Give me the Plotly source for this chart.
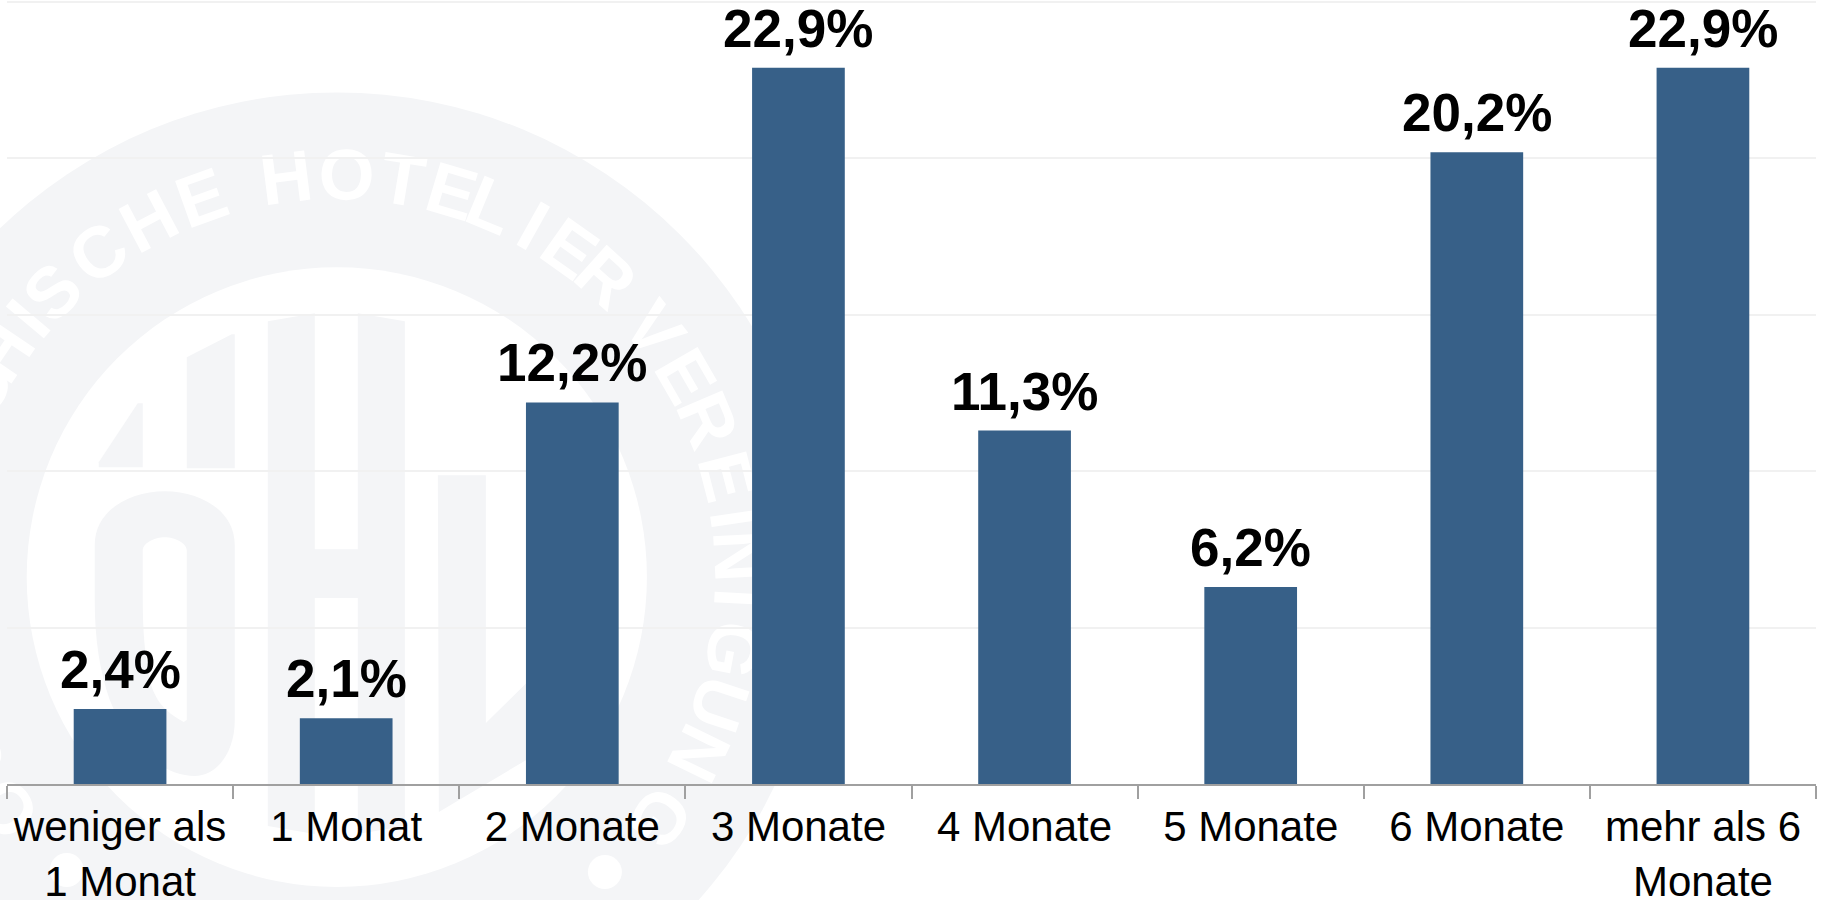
import math
import plotly.graph_objects as go

# ---- chart data ----
categories = ["weniger als<br>1 Monat", "1 Monat", "2 Monate", "3 Monate",
              "4 Monate", "5 Monate", "6 Monate", "mehr als 6<br>Monate"]
values = [2.4, 2.1, 12.2, 22.9, 11.3, 6.3, 20.2, 22.9]
value_labels = ["2,4%", "2,1%", "12,2%", "22,9%", "11,3%", "6,2%", "20,2%", "22,9%"]

# ---- watermark decoration (background logo, in page pixels) ----
wm_letters = ["Ö", "S", "T", "C", "H", "I", "S", "C", "H", "E", "H", "O", "T", "E", "L", "I", "E", "R",
              "V", "E", "R", "E", "I", "N", "I", "G", "U", "N", "G"]
wm_angles = [-125, -116, -108, -62, -56, -50, -44.9, -36.3, -27.8, -19.6, -7.2, 1.4, 9.4, 16.6, 22.5, 29.2, 35.3, 41.9,
             52, 60, 67, 75.5, 81.6, 87, 93, 100.4, 108.4, 116, 126.8]
WM_CX, WM_CY, WM_R_OUT, WM_R_IN, WM_R_TEXT = 337, 577, 485, 310, 410
WM_GRAY = "#f4f5f7"

W, H = 1821, 900
L, R, T, B = 7.3, 1815.7, 1.5, 784.0


def px(x):
    return (x - L) / (R - L)


def py(y):
    return (B - y) / (B - T)


def path(cmds):
    out = []
    for c in cmds:
        if isinstance(c, str):
            out.append(c)
        else:
            out.append(f"{px(c[0]):.5f},{py(c[1]):.5f}")
    return " ".join(out)


def poly(points):
    s = "M " + " L ".join(f"{px(x):.5f},{py(y):.5f}" for x, y in points) + " Z"
    return dict(type="path", xref="paper", yref="paper", layer="below", path=s,
                fillcolor=WM_GRAY, line=dict(width=0))


def circle(cx, cy, r, color):
    return dict(type="circle", xref="paper", yref="paper", layer="below",
                x0=px(cx - r), x1=px(cx + r), y0=py(cy + r), y1=py(cy - r),
                fillcolor=color, line=dict(width=0))


shapes = [circle(WM_CX, WM_CY, WM_R_OUT, WM_GRAY), circle(WM_CX, WM_CY, WM_R_IN, "#ffffff")]
# Ö: umlaut bars
shapes.append(poly([(99, 467), (143, 467), (143, 403), (138, 403), (99, 462)]))
shapes.append(poly([(187, 357), (232, 334), (235, 334), (235, 468), (187, 468)]))
# Ö: body with counter
o_path = ["M", (95, 545), "C", (95, 510), (130, 491), (165, 491), "C", (200, 491), (235, 510), (235, 545),
          "L", (235, 720), "C", (235, 755), (215, 776), (195, 776), "C", (165, 776), (130, 750), (110, 700),
          "C", (100, 670), (95, 640), (95, 600), "Z",
          "M", (143, 550), "C", (143, 543), (155, 537), (165, 537), "C", (175, 537), (187, 543), (187, 550),
          "L", (187, 720), "L", (184, 722), "C", (165, 712), (155, 700), (150, 680),
          "C", (145, 655), (143, 630), (143, 600), "Z"]
shapes.append(dict(type="path", xref="paper", yref="paper", layer="below", path=path(o_path),
                   fillcolor=WM_GRAY, line=dict(width=0)))
# H
shapes.append(poly([(268, 321), (315, 313), (315, 549), (358, 549), (358, 313), (405, 321),
                    (405, 826), (358, 834), (358, 598), (315, 598), (315, 834), (268, 826)]))
# V
shapes.append(poly([(438, 475), (486, 475), (486, 723), (560, 650), (560, 740), (439, 812)]))
# dots on the ring
shapes.append(circle(605, 872, 17, "#ffffff"))
shapes.append(circle(67, 870, 17, "#ffffff"))

# ring lettering: real text, drawn beneath the bars as shape labels
for ch, ang in zip(wm_letters, wm_angles):
    a = math.radians(ang)
    cx = WM_CX + WM_R_TEXT * math.sin(a)
    cy = WM_CY - WM_R_TEXT * math.cos(a)
    shapes.append(dict(type="rect", xref="paper", yref="paper", layer="below",
                       x0=px(cx - 2), x1=px(cx + 2), y0=py(cy + 2), y1=py(cy - 2),
                       fillcolor="rgba(0,0,0,0)", line=dict(width=0),
                       label=dict(text=ch, textangle=ang, textposition="middle center",
                                  font=dict(family="Liberation Sans", size=72,
                                            weight="bold", color="#ffffff"))))

# faint gridline on the very top of the plot
shapes.append(dict(type="line", xref="paper", yref="paper", layer="below", x0=0, x1=1, y0=1, y1=1,
                   line=dict(color="#f1f1f1", width=2)))

annotations = [dict(x=c, y=v, xref="x", yref="y", text=t, showarrow=False, xanchor="center",
                    yanchor="bottom", yshift=9, borderpad=0,
                    font=dict(family="Liberation Sans, Arial", size=53, color="#000000", weight="bold"))
               for c, v, t in zip(categories, values, value_labels)]

fig = go.Figure(go.Bar(
    x=categories, y=values, cliponaxis=False,
    marker=dict(color="#376088", line=dict(width=0)),
    hoverinfo="x+y",
))

fig.update_layout(
    width=W, height=H, showlegend=False, bargap=0.59,
    margin=dict(l=L, r=W - R, t=T, b=H - B, autoexpand=False, pad=0),
    paper_bgcolor="#ffffff", plot_bgcolor="rgba(0,0,0,0)",
    font=dict(family="Liberation Sans, Arial", color="#000000"),
    shapes=shapes, annotations=annotations,
    xaxis=dict(type="category", tickson="boundaries", ticks="outside", ticklen=13, tickwidth=2,
               tickcolor="#a0a0a0", showline=True, linecolor="#a0a0a0", linewidth=2, showgrid=False,
               zeroline=False, tickangle=0, tickfont=dict(size=42, color="#000000"),
               ticklabelstandoff=5, automargin=False),
    yaxis=dict(range=[0, 25], dtick=5, showticklabels=False, ticks="", showline=False,
               showgrid=True, gridcolor="#f1f1f1", gridwidth=1.5, zeroline=False, automargin=False),
)

fig.write_html("out.html", config={"displayModeBar": False},
               post_script="document.body.style.margin='0';document.documentElement.style.overflow='hidden';")
